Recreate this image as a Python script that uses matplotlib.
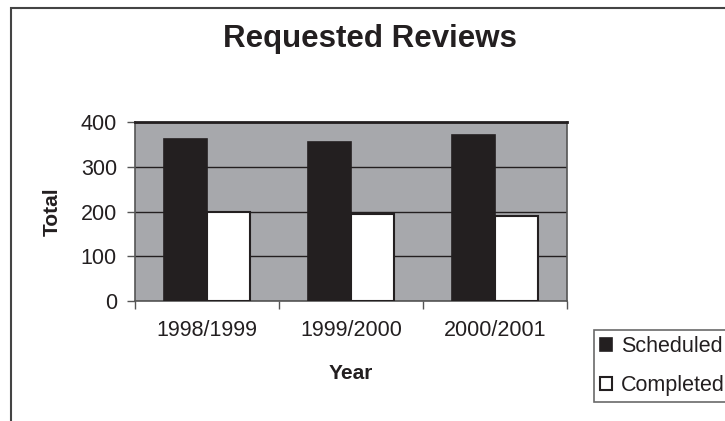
import matplotlib
matplotlib.use('Agg')
import matplotlib.pyplot as plt
from matplotlib.patches import Rectangle
import numpy as np

plt.rcParams['font.family'] = ['Liberation Sans', 'DejaVu Sans']

# data
years = ['1998/1999', '1999/2000', '2000/2001']
scheduled = [361, 355, 372]
completed = [200, 195, 190]
yticks = [0, 100, 200, 300, 400]

ink = '#231F20'
fig = plt.figure(figsize=(7.25, 4.21), dpi=100)
ax = fig.add_axes([135 / 725, 1 - 301 / 421, 432 / 725, 179 / 421])
ax.set_facecolor('#A7A8AC')

x = np.arange(len(years))
w = 0.3
ax.bar(x - w / 2, scheduled, w, color=ink, edgecolor=ink, linewidth=1.2,
       label='Scheduled', zorder=3)
ax.bar(x + w / 2, completed, w, color='white', edgecolor=ink, linewidth=1.5,
       label='Completed', zorder=3)

ax.set_xlim(-0.5, len(years) - 0.5)
ax.set_ylim(0, 400)
ax.set_yticks(yticks)
ax.yaxis.grid(True, color=ink, linewidth=1.0, zorder=1)
ax.set_axisbelow(True)

# category ticks on the boundaries, labels in the middle
ax.set_xticks(np.arange(len(years) + 1) - 0.5)
ax.set_xticklabels([])
ax.set_xticks(x, minor=True)
ax.set_xticklabels(years, minor=True, fontsize=15.5, color=ink)
ax.tick_params(axis='x', which='minor', length=0, pad=14)
ax.tick_params(axis='x', which='major', length=6, width=1, color='#555555')
ax.tick_params(axis='y', length=6, width=1, color='#555555', pad=7,
               labelsize=15.5, labelcolor=ink)

for side in ['left', 'bottom', 'right']:
    ax.spines[side].set_color('#555555')
    ax.spines[side].set_linewidth(1.2)
ax.spines['top'].set_color(ink)
ax.spines['top'].set_linewidth(2)

ax.set_xlabel('Year', fontsize=15, fontweight='bold', color=ink, va='center')
ax.xaxis.set_label_coords(0.5, -0.405)
ax.text(-0.191, 0.5, 'Total', transform=ax.transAxes, rotation=90,
        ha='center', va='center', fontsize=15, fontweight='bold', color=ink)

fig.text(370 / 725, 1 - 39 / 421, 'Requested Reviews', ha='center', va='center',
         fontsize=22.5, fontweight='bold', color=ink)

# outer chart border (runs off the right and bottom edges)
fig.patches.append(Rectangle((11 / 725, -0.1), 1.2, 1 - 8 / 421 + 0.1,
                             transform=fig.transFigure, fill=False,
                             edgecolor='#444444', linewidth=1.5))

leg = fig.legend(loc='upper left', bbox_to_anchor=(594 / 725, 1 - 330 / 421),
                 fontsize=15.5, frameon=True, fancybox=False, borderpad=0.3,
                 handlelength=0.55, handleheight=0.55, handletextpad=0.4,
                 labelspacing=0.8, borderaxespad=0)
leg.get_frame().set_edgecolor('#444444')
leg.get_frame().set_linewidth(1.2)
for t in leg.get_texts():
    t.set_color(ink)

fig.savefig('out.png', dpi=100)
